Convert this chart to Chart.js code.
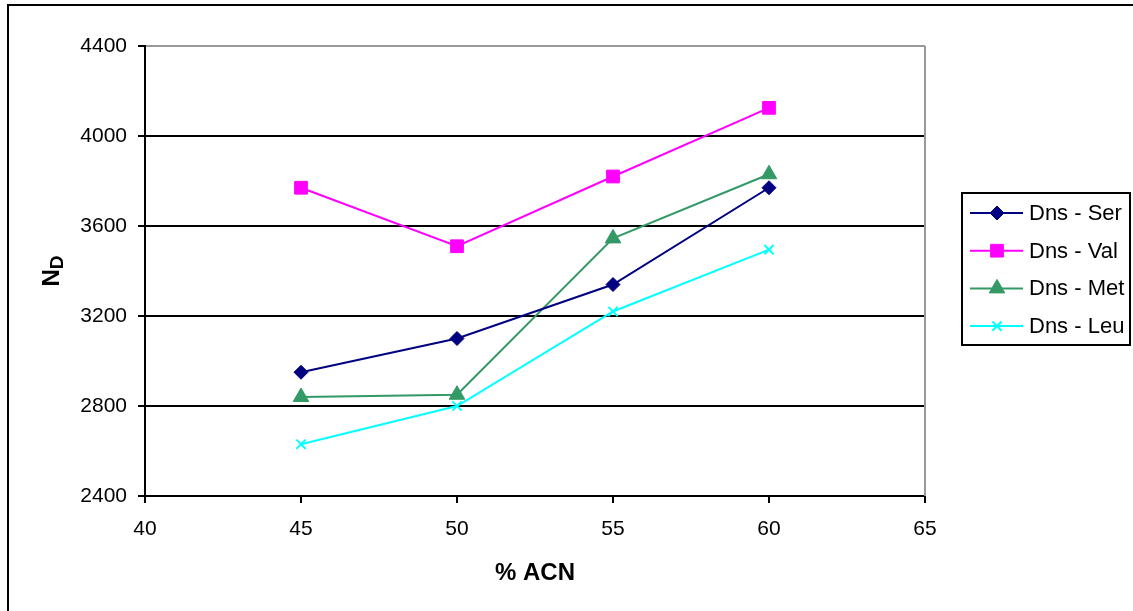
<!DOCTYPE html>
<html>
<head>
<meta charset="utf-8">
<script src="https://cdn.jsdelivr.net/npm/chart.js@4/dist/chart.umd.min.js"></script>
<style>
  html, body { margin: 0; padding: 0; background: #fff; }
  canvas { display: block; }
</style>
</head>
<body>
<canvas id="chart" width="1133" height="611"></canvas>
<script>
// data
const acn = [45, 50, 55, 60];
const dnsSer = [2950, 3100, 3340, 3770];
const dnsVal = [3770, 3510, 3820, 4125];
const dnsMet = [2840, 2850, 3545, 3830];
const dnsLeu = [2630, 2800, 3220, 3495];
const seriesNames = ['Dns - Ser', 'Dns - Val', 'Dns - Met', 'Dns - Leu'];
const yTicks = [2400, 2800, 3200, 3600, 4000, 4400];
const xTicks = [40, 45, 50, 55, 60, 65];

const FONT = 'Liberation Sans, Arial, sans-serif';

function toPoints(ys) {
    return acn.map((x, i) => ({ x: x, y: ys[i] }));
}

function makeSet(label, ys, color, style, radius) {
    return {
        label: label,
        data: toPoints(ys),
        borderColor: color,
        backgroundColor: color,
        pointBackgroundColor: color,
        pointBorderColor: color,
        pointStyle: style,
        pointRadius: radius,
        pointBorderWidth: style === 'crossRot' ? 2 : 1,
        borderWidth: 2,
        tension: 0
    };
}

// frame, right plot border, axis titles and legend
const decorations = {
    id: 'decorations',
    beforeDraw(chart) {
        const ctx = chart.ctx;
        ctx.save();
        ctx.fillStyle = '#fff';
        ctx.fillRect(0, 0, chart.width, chart.height);
        ctx.strokeStyle = '#000';
        ctx.lineWidth = 2;
        ctx.beginPath();
        ctx.moveTo(8, chart.height);
        ctx.lineTo(8, 5);
        ctx.lineTo(chart.width, 5);
        ctx.stroke();
        ctx.restore();
    },
    afterDraw(chart) {
        const ctx = chart.ctx;
        const area = chart.chartArea;
        ctx.save();

        // right edge of plot area
        ctx.strokeStyle = '#999';
        ctx.lineWidth = 2;
        ctx.beginPath();
        ctx.moveTo(area.right, area.top);
        ctx.lineTo(area.right, area.bottom);
        ctx.stroke();

        // x title
        ctx.fillStyle = '#000';
        ctx.font = 'bold 24px ' + FONT;
        ctx.textAlign = 'center';
        ctx.textBaseline = 'middle';
        ctx.fillText('% ACN', (area.left + area.right) / 2, 573);

        // y title N with subscript D
        ctx.save();
        ctx.translate(59, (area.top + area.bottom) / 2);
        ctx.rotate(-Math.PI / 2);
        ctx.textAlign = 'left';
        ctx.textBaseline = 'alphabetic';
        ctx.font = 'bold 24px ' + FONT;
        const nW = ctx.measureText('N').width;
        ctx.font = 'bold 19px ' + FONT;
        const dW = ctx.measureText('D').width;
        const start = -(nW + dW) / 2;
        ctx.font = 'bold 24px ' + FONT;
        ctx.fillText('N', start, 0);
        ctx.font = 'bold 19px ' + FONT;
        ctx.fillText('D', start + nW, 4);
        ctx.restore();

        // legend
        ctx.strokeStyle = '#000';
        ctx.lineWidth = 2;
        ctx.strokeRect(962, 193, 168, 152);
        ctx.font = '22px ' + FONT;
        ctx.textAlign = 'left';
        ctx.textBaseline = 'middle';
        chart.data.datasets.forEach((ds, i) => {
            const y = 213 + i * 37.7;
            ctx.strokeStyle = ds.borderColor;
            ctx.lineWidth = 2;
            ctx.beginPath();
            ctx.moveTo(970, y);
            ctx.lineTo(1023, y);
            ctx.stroke();
            ctx.fillStyle = ds.pointBackgroundColor;
            ctx.strokeStyle = ds.pointBorderColor;
            ctx.lineWidth = ds.pointBorderWidth;
            Chart.helpers.drawPoint(ctx, { pointStyle: ds.pointStyle, radius: ds.pointRadius, rotation: 0, borderWidth: ds.pointBorderWidth }, 997, y);
            ctx.fillStyle = '#000';
            ctx.fillText(ds.label, 1029, y + 1);
        });
        ctx.restore();
    }
};

new Chart(document.getElementById('chart'), {
    type: 'line',
    data: {
        datasets: [
            makeSet(seriesNames[0], dnsSer, '#000080', 'rectRot', 7),
            makeSet(seriesNames[1], dnsVal, '#FF00FF', 'rect', 9),
            makeSet(seriesNames[2], dnsMet, '#339966', 'triangle', 9),
            makeSet(seriesNames[3], dnsLeu, '#00FFFF', 'crossRot', 6.5)
        ]
    },
    options: {
        responsive: false,
        animation: false,
        layout: { padding: { left: 0, top: 46, right: 208, bottom: 0 } },
        plugins: {
            legend: { display: false },
            tooltip: { enabled: false }
        },
        scales: {
            x: {
                type: 'linear',
                min: 40,
                max: 65,
                afterFit(scale) { scale.height = 115; },
                afterBuildTicks(scale) { scale.ticks = xTicks.map(v => ({ value: v })); },
                border: { color: '#000', width: 2 },
                grid: { drawOnChartArea: false, drawTicks: true, tickLength: 7, color: '#000', lineWidth: 2 },
                ticks: { color: '#000', padding: 14, maxRotation: 0, font: { family: FONT, size: 21 }, callback: v => String(v) }
            },
            y: {
                min: 2400,
                max: 4400,
                afterFit(scale) { scale.width = 145; },
                afterBuildTicks(scale) { scale.ticks = yTicks.map(v => ({ value: v })); },
                border: { color: '#000', width: 2 },
                grid: {
                    color: ctx => (ctx.tick && ctx.tick.value === 4400) ? '#999' : '#000',
                    tickColor: '#000',
                    lineWidth: 2,
                    tickLength: 7
                },
                ticks: { color: '#000', padding: 11, font: { family: FONT, size: 21 }, callback: v => String(v) }
            }
        }
    },
    plugins: [decorations]
});
</script>
</body>
</html>
